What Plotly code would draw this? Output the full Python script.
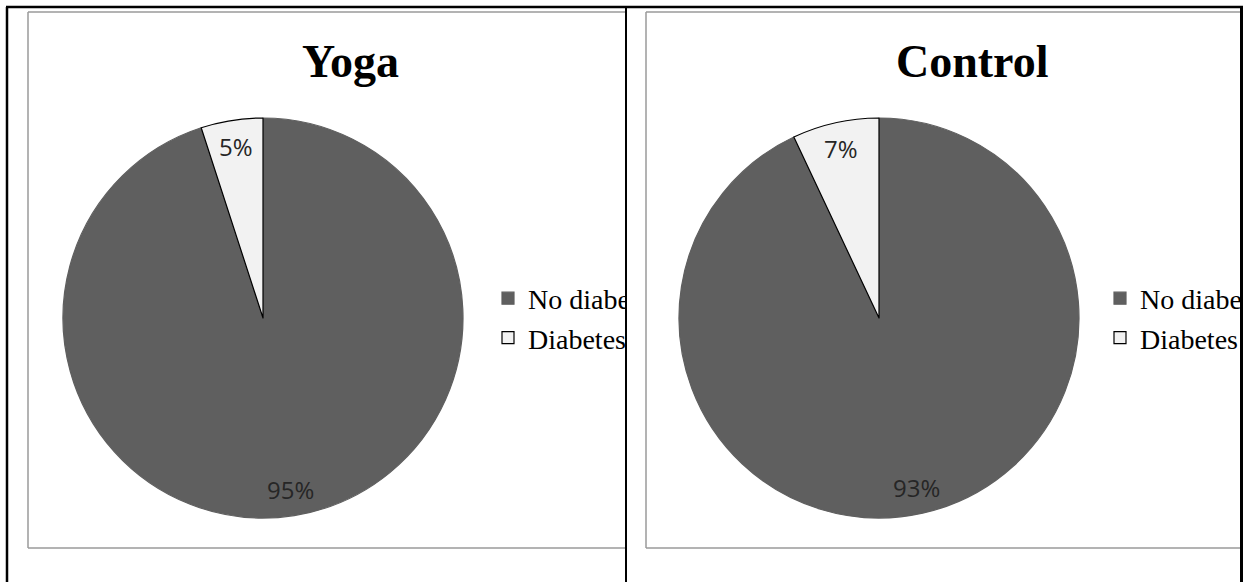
import math
import plotly.graph_objects as go

# ---------------- data ----------------
panel_titles = ["Yoga", "Control"]
labels = ["No diabetes", "Diabetes"]
# legend text as it is visible in the (cell-clipped) original legend
legend_labels = ["No diabe", "Diabetes"]
yoga_pct = [95, 5]
control_pct = [93, 7]
slice_colors = ["#5f5f5f", "#f2f2f2"]
slice_line_colors = ["#5f5f5f", "#000000"]

# ---------------- layout constants (pixels) ----------------
W, H = 1247, 582
R = 200
centers = [(263, 318), (879, 318)]
title_x = [350, 972]
legend_x = [488, 1100]
box_left = [28, 646]
box_right = [626, 1241]


def px(x):
    return x / W


def py(y):
    return 1 - y / H


fig = go.Figure()
series = [yoga_pct, control_pct]
legend_ids = ["legend", "legend2"]

annotations = []
for i, vals in enumerate(series):
    cx, cy = centers[i]
    fig.add_trace(go.Pie(
        labels=legend_labels,
        values=vals,
        customdata=labels,
        sort=False,
        direction="clockwise",
        rotation=0,
        marker=dict(colors=slice_colors,
                    line=dict(color=slice_line_colors, width=1.2)),
        textinfo="none",
        hovertemplate="%{customdata}: %{value}%<extra></extra>",
        domain=dict(x=[px(cx - R), px(cx + R)], y=[py(cy + R), py(cy - R)]),
        legend=legend_ids[i],
        legendgroup=panel_titles[i],
        showlegend=True,
        name=panel_titles[i],
    ))
    # percentage labels placed at the slice mid-angles (Excel "inside end")
    total = sum(vals)
    cum = 0
    for v in vals:
        mid = (cum + v / 2) / total * 2 * math.pi
        cum += v
        lx = cx + 0.87 * R * math.sin(mid)
        ly = cy - 0.87 * R * math.cos(mid)
        annotations.append(dict(
            x=px(lx), y=py(ly), xref="paper", yref="paper",
            text=f"{v}%", showarrow=False,
            xanchor="center", yanchor="middle",
            font=dict(family="Open Sans", size=24, color="#262626"),
        ))
    # panel title
    annotations.append(dict(
        x=px(title_x[i]), y=py(62), xref="paper", yref="paper",
        text=panel_titles[i], showarrow=False,
        xanchor="center", yanchor="middle",
        font=dict(family="Liberation Serif", size=46, color="#000000", weight="bold"),
    ))


# cover boxes that clip the legend text at the table borders
def cover(x0, x1, y0, y1, color):
    return dict(
        x=px(x0), y=py(y0), xref="paper", yref="paper",
        xanchor="left", yanchor="top",
        width=x1 - x0, height=y1 - y0,
        text=" ", showarrow=False, bgcolor=color,
        borderpad=0, borderwidth=0, font=dict(size=1),
    )


annotations.append(cover(627, 644, 270, 370, "#ffffff"))
annotations.append(cover(1243, 1247, 270, 370, "#ffffff"))
# table-cell borders drawn on top of the legends
annotations.append(cover(625, 627, 7, 582, "#000000"))
annotations.append(cover(1240, 1243, 7, 582, "#000000"))

shapes = []
# inner chart-area boxes (gray); their right edges are hidden by the table cell
for bx0, bx1 in zip(box_left, box_right):
    for (x0, y0, x1, y1) in [(bx0, 12, bx1, 12), (bx0, 548, bx1, 548), (bx0, 12, bx0, 548)]:
        shapes.append(dict(type="line", xref="paper", yref="paper",
                           x0=px(x0), x1=px(x1), y0=py(y0), y1=py(y1),
                           line=dict(color="#9a9a9a", width=1.5), layer="below"))
# black table lines
for (x0, y0, x1, y1) in [(6, 7, 1243, 7), (7, 7, 7, 582)]:
    shapes.append(dict(type="line", xref="paper", yref="paper",
                       x0=px(x0), x1=px(x1), y0=py(y0), y1=py(y1),
                       line=dict(color="#000000", width=2.5), layer="above"))

legend_style = dict(
    font=dict(family="Liberation Serif", size=28, color="#000000"),
    bgcolor="rgba(0,0,0,0)", borderwidth=0,
    xanchor="left", yanchor="middle", orientation="v",
    itemclick=False, itemdoubleclick=False,
)

fig.update_layout(
    width=W, height=H,
    margin=dict(l=0, r=0, t=0, b=0),
    paper_bgcolor="#ffffff", plot_bgcolor="#ffffff",
    annotations=annotations,
    shapes=shapes,
    legend=dict(x=px(legend_x[0]), y=py(318), **legend_style),
    legend2=dict(x=px(legend_x[1]), y=py(318), **legend_style),
)

fig.write_html("out.html")
